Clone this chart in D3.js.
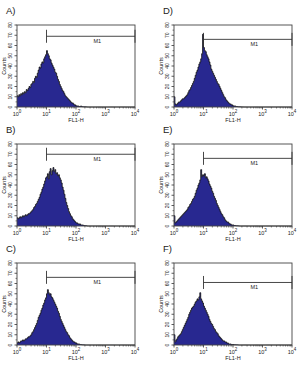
<!DOCTYPE html>
<html>
<head>
<meta charset="utf-8">
<script src="https://cdn.jsdelivr.net/npm/d3@7"></script>
<style>
  body { margin:0; background:#fff; }
  svg text { font-family: "Liberation Sans", Arial, sans-serif; fill:#222; }
</style>
</head>
<body>
<svg id="chart" width="299" height="365"></svg>
<script>
// panel names, A-C left column, D-F right column
var panels = ["A)", "B)", "C)", "D)", "E)", "F)"];
// histogram counts, 32 channels per decade starting at 10^0
var countsA = [11,10,12,11,13,12,14,13, 15,14,17,16,18,20,19,22, 23,25,24,28,30,29,33,36, 39,38,42,44,43,47,49,51,
  55,52,50,47,46,43,41,39, 37,34,33,30,27,25,22,20, 18,16,15,13,11,10,9,8, 7,6,5,4,4,3,2,2, 1,1,1,0.5,0.5,1,0.5,0.3, 0.3,0.2,0.2,0.1];
var countsB = [8,7,8,9,8,9,10,9, 10,11,10,11,12,12,13,14, 15,16,18,19,21,22,24,26, 28,31,33,36,38,41,44,47,
  48,51,46,53,56,50,54,57, 53,55,51,52,49,50,47,45, 42,38,35,31,27,23,20,17, 14,12,10,9,7,6,5,4, 3,3,2,2,2,1,1,1, 0.5,0.5,0.3,0.2];
var countsC = [2,3,2,3,4,4,5,4, 5,6,6,7,8,8,9,10, 12,13,15,17,19,21,24,27, 29,31,34,36,39,41,44,46,
  50,54,51,49,50,47,46,44, 42,40,38,36,33,31,28,25, 23,21,19,17,15,13,12,10, 9,7,6,5,4,3,3,2, 2,1,1,1,0.5,0.5,0.3,0.2, 0.2,0.1,0,0];
var countsD = [10,3,2,3,4,5,5,6, 7,8,8,9,10,11,12,14, 16,17,19,21,23,25,28,31, 34,36,39,42,44,47,52,71,
  58,55,54,51,49,47,44,41, 37,35,33,31,29,27,25,23, 22,20,18,16,14,12,10,9, 7,6,5,4,3,3,2,2, 1,1,1,0.5,0.5,0.3,0.3,0.2, 0.2,0.1,0.1,0];
var countsE = [10,3,4,5,6,7,8,9, 10,11,12,13,14,15,16,18, 19,21,22,24,26,27,29,32, 35,37,40,42,45,55,48,50,
  49,51,47,48,46,44,41,39, 37,34,32,29,27,25,22,20, 18,16,14,12,11,9,8,6, 5,4,4,3,2,2,1,1, 1,0.5,0.5,0.3,0.3,0.2,0.1,0, 0,0,0,0];
var countsF = [10,3,5,6,8,9,10,11, 13,15,17,19,21,23,25,27, 30,32,34,36,37,38,40,42, 43,45,44,47,51,45,43,41,
  38,36,34,32,30,28,25,23, 21,20,18,16,15,13,12,11, 9,8,7,6,5,4,4,3, 3,2,2,1,1,1,0.5,0.5, 0.5,0.3,0.3,0.2,0.2,0.1,0,0, 0,0,0,0];
var allCounts = [countsA, countsB, countsC, countsD, countsE, countsF];
// M1 gate: from 10^1 to 10^4, drawn at these count levels
var m1Start = 10, m1End = 10000;
var m1Level = [69, 70, 66, 66, 66, 61];
var yTicks = [0,10,20,30,40,50,60,70,80];
var xTicks = [1,10,100,1000,10000];

var svg = d3.select("#chart");
var w = 118, h = 82;
var colX = [17, 174], rowY = [25, 144, 263];
var chPerDecade = 32;

panels.forEach(function(name, p) {
  var col = Math.floor(p / 3), row = p % 3;
  var g = svg.append("g").attr("transform", "translate(" + colX[col] + "," + rowY[row] + ")");
  var x = d3.scaleLog().domain([1, 10000]).range([0, w]);
  var y = d3.scaleLinear().domain([0, 80]).range([h, 0]);

  // panel letter
  g.append("text").attr("x", -11).attr("y", -11).attr("font-size", "9.5px").text(name);

  // histogram
  var c = allCounts[p];
  var pts = [];
  for (var i = 0; i < 4 * chPerDecade; i++) {
    pts.push({ e: Math.pow(10, i / chPerDecade), v: i < c.length ? c[i] : 0 });
  }
  pts.push({ e: 10000, v: 0 });
  var area = d3.area().curve(d3.curveStepAfter)
    .x(function(d) { return x(d.e); }).y0(h).y1(function(d) { return y(d.v); });
  var line = d3.line().curve(d3.curveStepAfter)
    .x(function(d) { return x(d.e); }).y(function(d) { return y(d.v); });
  g.append("path").attr("d", area(pts)).attr("fill", "#282890");
  g.append("path").attr("d", line(pts)).attr("fill", "none").attr("stroke", "#111").attr("stroke-width", 0.8);

  // frame
  g.append("rect").attr("x", 0).attr("y", 0).attr("width", w).attr("height", h)
    .attr("fill", "none").attr("stroke", "#444").attr("stroke-width", 0.9);

  // y axis
  var ya = g.append("g");
  yTicks.forEach(function(t) {
    ya.append("line").attr("x1", -2.5).attr("x2", 0).attr("y1", y(t)).attr("y2", y(t)).attr("stroke", "#333").attr("stroke-width", 0.8);
    if (t < 80) ya.append("line").attr("x1", -1.5).attr("x2", 0).attr("y1", y(t + 5)).attr("y2", y(t + 5)).attr("stroke", "#333").attr("stroke-width", 0.6);
    ya.append("text").attr("transform", "translate(-5.5," + y(t) + ") rotate(-90)")
      .attr("text-anchor", "middle").attr("font-size", "5px").text(t);
  });
  ya.append("text").attr("transform", "translate(-11.5," + (h / 2) + ") rotate(-90)")
    .attr("text-anchor", "middle").attr("font-size", "5.5px").text("Counts");

  // x axis
  var xa = g.append("g").attr("transform", "translate(0," + h + ")");
  for (var d = 0; d < 4; d++) {
    for (var k = 2; k <= 9; k++) {
      var v = k * Math.pow(10, d);
      xa.append("line").attr("x1", x(v)).attr("x2", x(v)).attr("y1", 0).attr("y2", 1.5).attr("stroke", "#333").attr("stroke-width", 0.6);
    }
  }
  xTicks.forEach(function(t, i) {
    xa.append("line").attr("x1", x(t)).attr("x2", x(t)).attr("y1", 0).attr("y2", 2.5).attr("stroke", "#333").attr("stroke-width", 0.8);
    var tx = xa.append("text").attr("x", x(t)).attr("y", 8.5).attr("text-anchor", "middle").attr("font-size", "5.5px");
    tx.append("tspan").text("10");
    tx.append("tspan").attr("dy", -2.5).attr("font-size", "4.5px").text(i);
  });
  xa.append("text").attr("x", w / 2).attr("y", 14.5).attr("text-anchor", "middle").attr("font-size", "5.5px").text("FL1-H");

  // M1 gate marker
  var ly = y(m1Level[p]);
  var mg = g.append("g").attr("stroke", "#333").attr("stroke-width", 0.9);
  mg.append("line").attr("x1", x(m1Start)).attr("x2", x(m1End)).attr("y1", ly).attr("y2", ly);
  mg.append("line").attr("x1", x(m1Start)).attr("x2", x(m1Start)).attr("y1", ly - 6.5).attr("y2", ly + 6.5);
  mg.append("line").attr("x1", x(m1End)).attr("x2", x(m1End)).attr("y1", ly - 6.5).attr("y2", ly + 6.5);
  g.append("text").attr("x", x(Math.pow(10, 2.72))).attr("y", ly + 7).attr("text-anchor", "middle")
    .attr("font-size", "5.5px").text("M1");
});
</script>
</body>
</html>
